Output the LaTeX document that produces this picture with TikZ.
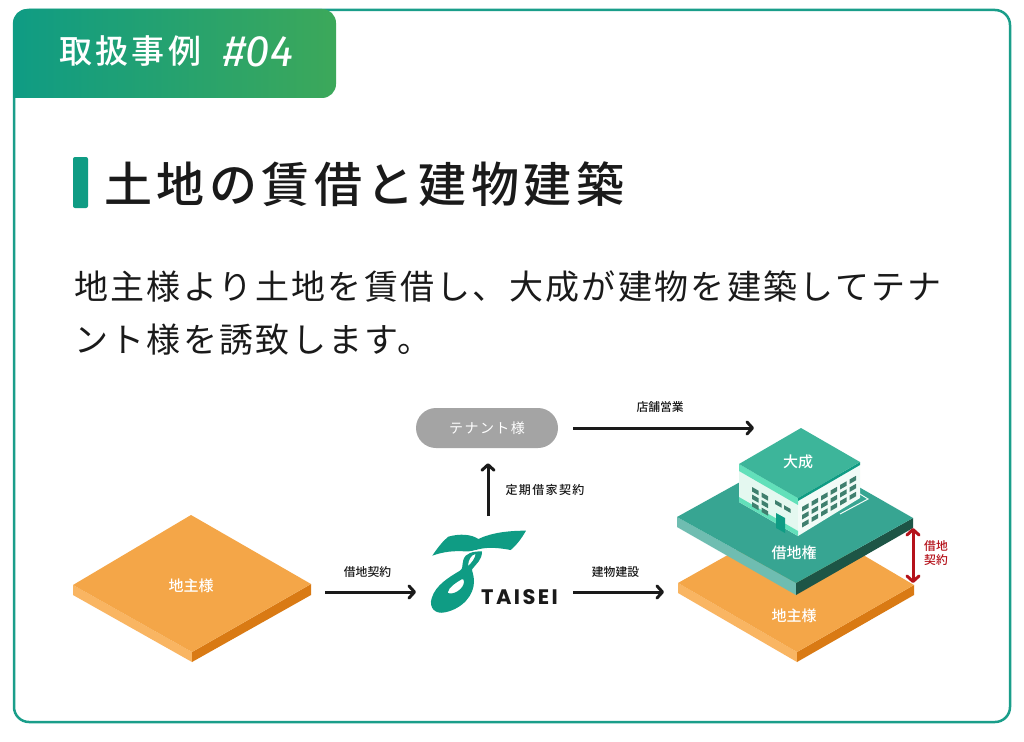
\documentclass[tikz,border=0pt]{standalone}
\usepackage{fontspec}
\setmainfont{Noto Sans CJK JP}
\newfontfamily\jpmedium{Noto Sans CJK JP Medium}
\newfontfamily\numfont{Fira Sans}
\newfontfamily\logofont{Poppins}
\usetikzlibrary{arrows.meta}
\definecolor{tealmain}{HTML}{0F9C84}
\definecolor{cardline}{HTML}{1A9E8A}
\definecolor{tabright}{HTML}{3CA85A}
\definecolor{orangetop}{HTML}{F4A648}
\definecolor{orangeleft}{HTML}{F9B562}
\definecolor{orangeright}{HTML}{D97A14}
\definecolor{greentop}{HTML}{37A592}
\definecolor{greenleft}{HTML}{6FBDB1}
\definecolor{greenright}{HTML}{1D5546}
\definecolor{rooftop}{HTML}{3DB59A}
\definecolor{mintband}{HTML}{62E0BA}
\definecolor{wallleft}{HTML}{E4F8F0}
\definecolor{wallright}{HTML}{F1FBF7}
\definecolor{windowfill}{HTML}{3F7F6E}
\definecolor{pillgrey}{HTML}{A4A4A4}
\definecolor{lease}{HTML}{B5121B}
\definecolor{inkblack}{HTML}{1A1A1A}
\tikzset{
	>={Straight Barb[length=5.5pt,width=12pt,round]},
	flow/.style={draw=inkblack,line width=3pt,->},
	small/.style={font=\jpmedium\fontsize{11.8}{13.5}\selectfont,text=inkblack,inner sep=0pt},
	platetext/.style={font=\jpmedium\fontsize{15}{16}\selectfont,text=white,inner sep=0pt},
}
\begin{document}
\begin{tikzpicture}[x=1pt,y=-1pt]
	\useasboundingbox (0,0) rectangle (1024,741);
	% card and tab
	\draw[cardline,line width=2.5pt,fill=white,rounded corners=15pt] (14,10) rectangle (1010,722);
	\shade[left color=tealmain,right color=tabright,rounded corners=14pt] (13,98) [sharp corners] -- (13,98) [rounded corners=14pt] -- (13,9) -- (336,9) -- (336,98) [sharp corners] -- cycle;
	\node[anchor=base west,inner sep=0pt,text=white,font=\jpmedium\fontsize{33}{33}\selectfont\addfontfeature{LetterSpace=10}] (tabtitle) at (59,64) {取扱事例};
	\node[anchor=base west,inner sep=0pt,text=white,font=\numfont\itshape\fontsize{44}{44}\selectfont] (tabnumber) at (223,67) {\#04};
	% heading
	\fill[tealmain,rounded corners=2pt] (73,157) rectangle (88,208);
	\node[anchor=base west,inner sep=0pt,text=inkblack,font=\jpmedium\fontsize{48}{48}\selectfont\addfontfeature{LetterSpace=9.3}] (heading) at (104,202) {土地の賃借と建物建築};
	\node[anchor=base west,inner sep=0pt,text=inkblack,font=\fontsize{34}{34}\selectfont\addfontfeature{LetterSpace=6.8}] (bodyone) at (74,299) {地主様より土地を賃借し、大成が建物を建築してテナ};
	\node[anchor=base west,inner sep=0pt,text=inkblack,font=\fontsize{34}{34}\selectfont\addfontfeature{LetterSpace=6.8}] (bodytwo) at (74,352) {ント様を誘致します。};
	% left plate
	\fill[orangeleft] (73,585) -- (192,652) -- (192,662) -- (73,595) -- cycle;
	\fill[orangeright] (311,584) -- (192,652) -- (192,662) -- (311,595) -- cycle;
	\fill[orangetop] (191,515) -- (311,584) -- (192,652) -- (73,585) -- cycle;
	\node[platetext] (owner) at (191,586) {地主様};
	% right plate, orange
	\fill[orangeleft] (678,583) -- (797,652) -- (797,662) -- (678,593) -- cycle;
	\fill[orangeright] (914,585) -- (797,652) -- (797,662) -- (914,595) -- cycle;
	\fill[orangetop] (797,516) -- (914,585) -- (797,652) -- (678,583) -- cycle;
	\node[platetext] (ownertwo) at (794,616) {地主様};
	% right plate, green
	\fill[greenleft] (677,517) -- (796,583) -- (796,595) -- (677,527) -- cycle;
	\fill[greenright] (913,518) -- (796,583) -- (796,595) -- (913,528) -- cycle;
	\fill[greentop] (796,451) -- (913,518) -- (796,583) -- (677,517) -- cycle;
	\node[platetext] (leasehold) at (794,553) {借地権};
	% building
	\draw[wallright,line width=1pt] (860,494) -- (868,499) -- (840,514);
	\fill[wallleft] (739,464) -- (798,498) -- (798,536) -- (739,502) -- cycle;
	\fill[wallright] (798,498) -- (860,462) -- (860,498) -- (798,536) -- cycle;
	\fill[mintband] (739,464) -- (798,498) -- (798,505) -- (739,471) -- cycle;
	\fill[mintband] (739,497) -- (798,531) -- (798,536) -- (739,502) -- cycle;
	\fill[tealmain] (798,498) -- (860,462) -- (860,465) -- (798,501) -- cycle;
	\fill[rooftop] (801,428) -- (860,462) -- (798,498) -- (739,464) -- cycle;
	\foreach \c in {0,...,5}
		\foreach \r in {0,1,2}
			\fill[windowfill] ({802+\c*9.5},{507+\r*8-\c*5.5}) -- ++(6.5,-3.7) -- ++(0,4.5) -- ++(-6.5,3.7) -- cycle;
	\foreach \c in {0,1}
		\foreach \r in {0,1,2}
			\fill[windowfill] ({752+\c*9.5},{487+\r*7.5+\c*5.5}) -- ++(6.5,3.7) -- ++(0,4.5) -- ++(-6.5,-3.7) -- cycle;
	\foreach \c in {0,1}
		\fill[windowfill] ({775+\c*9},{500+\c*5.2}) -- ++(6.5,3.7) -- ++(0,4) -- ++(-6.5,-3.7) -- cycle;
	\fill[tealmain] (776,513) -- (785,518) -- (785,533) -- (776,528) -- cycle;
	\node[platetext] (taiseibuilding) at (798,462) {大成};
	% logo
	\begin{scope}[shift={(410,510)},x=.3333pt,y=-.3333pt]
		\fill[tealmain] (67,137) .. controls (85,110) and (100,92) .. (115,80) .. controls (150,70) and (185,73) .. (205,87) .. controls (245,68) and (295,62) .. (348,62) .. controls (335,85) and (320,105) .. (302,120) .. controls (270,114) and (235,110) .. (205,118) .. controls (190,122) and (180,125) .. (165,124) .. controls (130,122) and (100,125) .. (67,137) -- cycle;
		\fill[tealmain,even odd rule] (216,124) .. controls (190,124) and (166,128) .. (160,150) .. controls (155,170) and (160,174) .. (150,182) .. controls (120,200) and (76,225) .. (65,265) .. controls (56,292) and (75,314) .. (105,307) .. controls (158,296) and (192,255) .. (192,215) .. controls (192,195) and (186,185) .. (186,178) .. controls (200,160) and (216,150) .. (216,124) -- cycle
			(197,132) .. controls (184,134) and (175,148) .. (174,168) .. controls (185,158) and (195,146) .. (197,132) -- cycle
			(155,208) .. controls (137,218) and (116,232) .. (113,248) .. controls (126,258) and (163,238) .. (162,214) .. controls (161,208) and (159,206) .. (155,208) -- cycle;
		\draw[white,line width=.7pt] (172,130) .. controls (185,123) and (200,121) .. (216,120);
	\end{scope}
	\node[anchor=base west,inner sep=0pt,text=inkblack,font=\logofont\bfseries\fontsize{21}{21}\selectfont\addfontfeature{LetterSpace=11.5}] (taiseilogo) at (481,604) {TAISEI};
	% tenant and arrows
	\node[fill=pillgrey,rounded corners=20pt,minimum width=142pt,minimum height=40pt,inner sep=0pt,text=white,font=\fontsize{14}{15}\selectfont\addfontfeature{LetterSpace=10}] (tenant) at (487,428) {テナント様};
	\coordinate (ownerR) at (325,592);
	\coordinate (logoL) at (416,592);
	\coordinate (logoR) at (573,592);
	\coordinate (plateL) at (664,592);
	\coordinate (logoT) at (488,516);
	\coordinate (shopR) at (754,428);
	\coordinate (leaseT) at (913,528);
	\coordinate (leaseB) at (913,583);
	\draw[flow] (ownerR) -- (logoL) node[small,midway,above=13pt,xshift=-3pt] (leasecontract) {借地契約};
	\draw[flow] (logoR) -- (plateL) node[small,midway,above=13pt,xshift=-3pt] (construction) {建物建設};
	\draw[flow,shorten >=15pt] (logoT) -- (tenant.south -| logoT) node[small,pos=.5,right=16pt,yshift=-8pt,font=\jpmedium\fontsize{12}{13.5}\selectfont\addfontfeature{LetterSpace=11.5}] (fixedterm) {定期借家契約};
	\draw[flow,shorten <=15pt] (tenant.east) -- (shopR) node[small,midway,above=14pt,xshift=4pt] (shopbusiness) {店舗営業};
	\draw[lease,line width=3pt,<->] (leaseT) -- (leaseB);
	\node[small,text=lease,align=center] (leaselabel) at (936,553) {借地\\契約};
\end{tikzpicture}
\end{document}
